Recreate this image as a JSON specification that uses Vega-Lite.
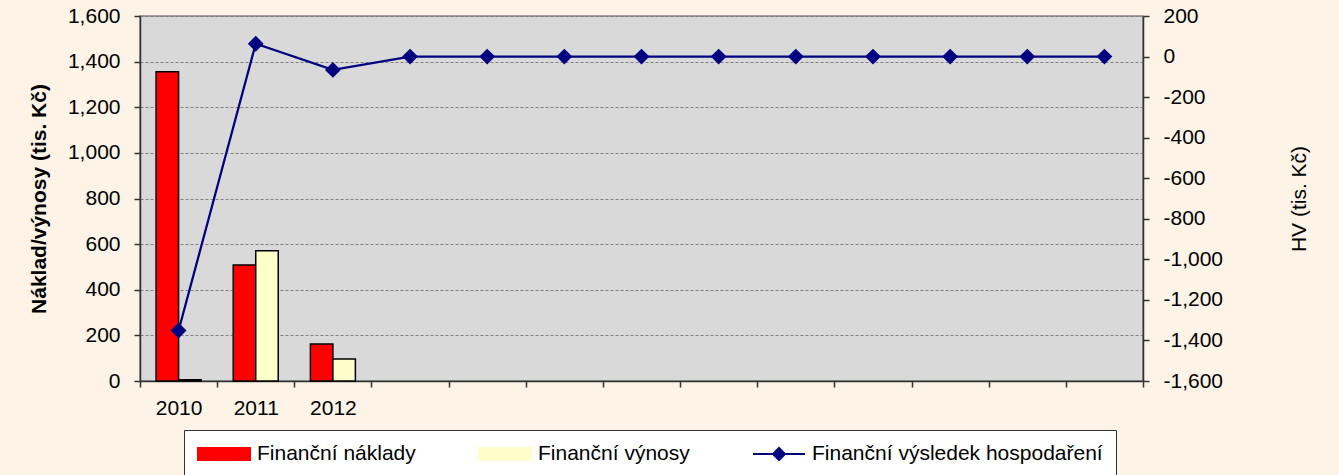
{
  "$schema": "https://vega.github.io/schema/vega-lite/v6.json",
  "width": 1003,
  "height": 365,
  "autosize": {"type": "none"},
  "padding": {"left": 140, "top": 16, "right": 196, "bottom": 94},
  "background": "#FDF3E6",
  "config": {
    "font": "Liberation Sans",
    "view": {"fill": "#D9D9D9", "stroke": "#808080", "strokeWidth": 1.5},
    "axis": {
      "labelFont": "Liberation Sans", "labelFontSize": 21, "labelColor": "#000000",
      "titleFont": "Liberation Sans", "titleFontSize": 21, "titleColor": "#000000",
      "domainColor": "#333333", "tickColor": "#333333", "domainWidth": 1.5, "tickWidth": 1.5
    },
    "legend": {
      "labelFont": "Liberation Sans", "labelFontSize": 21, "labelColor": "#000000",
      "symbolStrokeColor": "#000000", "symbolStrokeWidth": 2
    }
  },
  "data": {
    "values": [
      {"kat": "2010", "serie": "Finanční náklady", "hodnota": 1356},
      {"kat": "2010", "serie": "Finanční výnosy", "hodnota": 5},
      {"kat": "2011", "serie": "Finanční náklady", "hodnota": 508},
      {"kat": "2011", "serie": "Finanční výnosy", "hodnota": 571},
      {"kat": "2012", "serie": "Finanční náklady", "hodnota": 162},
      {"kat": "2012", "serie": "Finanční výnosy", "hodnota": 96},
      {"kat": "2010", "serie": "Finanční výsledek hospodaření", "hodnota": -1351},
      {"kat": "2011", "serie": "Finanční výsledek hospodaření", "hodnota": 63},
      {"kat": "2012", "serie": "Finanční výsledek hospodaření", "hodnota": -66},
      {"kat": " ", "serie": "Finanční výsledek hospodaření", "hodnota": 0},
      {"kat": "  ", "serie": "Finanční výsledek hospodaření", "hodnota": 0},
      {"kat": "   ", "serie": "Finanční výsledek hospodaření", "hodnota": 0},
      {"kat": "    ", "serie": "Finanční výsledek hospodaření", "hodnota": 0},
      {"kat": "     ", "serie": "Finanční výsledek hospodaření", "hodnota": 0},
      {"kat": "      ", "serie": "Finanční výsledek hospodaření", "hodnota": 0},
      {"kat": "       ", "serie": "Finanční výsledek hospodaření", "hodnota": 0},
      {"kat": "        ", "serie": "Finanční výsledek hospodaření", "hodnota": 0},
      {"kat": "         ", "serie": "Finanční výsledek hospodaření", "hodnota": 0},
      {"kat": "          ", "serie": "Finanční výsledek hospodaření", "hodnota": 0}
    ]
  },
  "layer": [
    {
      "transform": [{"filter": "datum.serie !== 'Finanční výsledek hospodaření'"}],
      "mark": {"type": "bar", "stroke": "#000000", "strokeWidth": 1.5},
      "encoding": {
        "x": {
          "field": "kat", "type": "nominal",
          "sort": ["2010", "2011", "2012", " ", "  ", "   ", "    ", "     ", "      ", "       ", "        ", "         ", "          "],
          "scale": {"domain": ["2010", "2011", "2012", " ", "  ", "   ", "    ", "     ", "      ", "       ", "        ", "         ", "          "], "paddingInner": 0, "paddingOuter": 0},
          "axis": {"title": null, "labelAngle": 0, "tickBand": "extent", "tickSize": 6, "labelPadding": 10, "grid": false}
        },
        "xOffset": {
          "field": "serie", "type": "nominal",
          "scale": {"domain": ["Finanční náklady", "Finanční výnosy"], "paddingInner": 0, "paddingOuter": 0.714}
        },
        "y": {
          "field": "hodnota", "type": "quantitative",
          "scale": {"domain": [0, 1600], "nice": false, "zero": false},
          "axis": {
            "orient": "left", "title": "Náklad/výnosy (tis. Kč)", "titleFontWeight": "bold",
            "values": [0, 200, 400, 600, 800, 1000, 1200, 1400, 1600],
            "labelExpr": "format(datum.value, ',')",
            "grid": true, "gridColor": "#808080", "gridDash": [3, 2], "gridWidth": 1,
            "tickSize": 6, "labelPadding": 14, "titlePadding": 18
          }
        },
        "color": {
          "field": "serie", "type": "nominal",
          "scale": {
            "domain": ["Finanční náklady", "Finanční výnosy", "Finanční výsledek hospodaření"],
            "range": ["#FF0000", "#FFFFCC", "#000080"]
          },
          "legend": {
            "orient": "none", "legendX": 44, "legendY": 414, "direction": "horizontal", "title": null,
            "fillColor": "#FFFFFF", "strokeColor": "#333333", "padding": 13,
            "labelLimit": 500, "labelOffset": 22, "columnPadding": 59, "symbolSize": 400, "symbolOffset": 16,
            "symbolStrokeColor": "#000000", "symbolStrokeWidth": 2,
            "encode": {
              "symbols": {
                "update": {
                  "shape": {"signal": "datum.value === 'Finanční výsledek hospodaření' ? 'M-2.6,0H2.6M0,-0.6L0.6,0L0,0.6L-0.6,0Z' : 'M-2.6,-0.6H2.6V0.6H-2.6Z'"},
                  "fill": {"signal": "datum.value === 'Finanční náklady' ? '#FF0000' : datum.value === 'Finanční výnosy' ? '#FFFFCC' : '#000080'"},
                  "stroke": {"signal": "datum.value === 'Finanční výsledek hospodaření' ? '#000080' : '#000000'"},
                  "strokeWidth": {"value": 2},
                  "opacity": {"value": 1},
                  "fillOpacity": {"value": 1},
                  "strokeOpacity": {"value": 1}
                }
              }
            }
          }
        }
      }
    },
    {
      "transform": [{"filter": "datum.serie === 'Finanční výsledek hospodaření'"}],
      "mark": {"type": "line", "strokeWidth": 2.25, "point": {"shape": "diamond", "size": 250, "filled": true}},
      "encoding": {
        "x": {
          "field": "kat", "type": "nominal",
          "sort": ["2010", "2011", "2012", " ", "  ", "   ", "    ", "     ", "      ", "       ", "        ", "         ", "          "]
        },
        "y": {
          "field": "hodnota", "type": "quantitative",
          "scale": {"domain": [-1600, 200], "nice": false, "zero": false},
          "axis": {
            "orient": "right", "title": "HV (tis. Kč)", "titleFontWeight": "normal",
            "values": [-1600, -1400, -1200, -1000, -800, -600, -400, -200, 0, 200],
            "labelExpr": "(datum.value < 0 ? '-' : '') + format(abs(datum.value), ',')",
            "grid": false, "tickSize": 6, "labelPadding": 14, "titlePadding": 66,
            "titleAngle": 270, "titleBaseline": "top"
          }
        },
        "color": {
          "field": "serie", "type": "nominal",
          "legend": {
            "orient": "none", "legendX": 44, "legendY": 414, "direction": "horizontal", "title": null,
            "fillColor": "#FFFFFF", "strokeColor": "#333333", "padding": 13,
            "labelLimit": 500, "labelOffset": 22, "columnPadding": 59, "symbolSize": 400, "symbolOffset": 16,
            "symbolStrokeColor": "#000000", "symbolStrokeWidth": 2,
            "encode": {
              "symbols": {
                "update": {
                  "shape": {"signal": "datum.value === 'Finanční výsledek hospodaření' ? 'M-2.6,0H2.6M0,-0.6L0.6,0L0,0.6L-0.6,0Z' : 'M-2.6,-0.6H2.6V0.6H-2.6Z'"},
                  "fill": {"signal": "datum.value === 'Finanční náklady' ? '#FF0000' : datum.value === 'Finanční výnosy' ? '#FFFFCC' : '#000080'"},
                  "stroke": {"signal": "datum.value === 'Finanční výsledek hospodaření' ? '#000080' : '#000000'"},
                  "strokeWidth": {"value": 2},
                  "opacity": {"value": 1},
                  "fillOpacity": {"value": 1},
                  "strokeOpacity": {"value": 1}
                }
              }
            }
          }
        }
      }
    }
  ],
  "resolve": {"scale": {"y": "independent"}}
}
